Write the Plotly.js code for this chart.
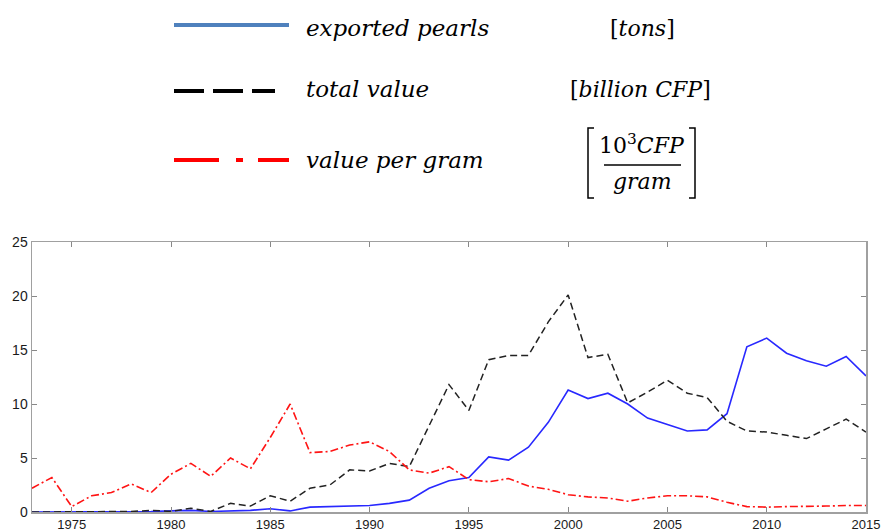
<!DOCTYPE html>
<html>
<head>
<meta charset="utf-8">
<script src="https://cdn.plot.ly/plotly-3.0.1.min.js"></script>
<style>html,body{margin:0;padding:0;background:#fff}#chart{width:885px;height:531px}</style>
</head>
<body>
<div id="chart"></div>
<script>
// ---- data ----
const years = [1973,1974,1975,1976,1977,1978,1979,1980,1981,1982,1983,1984,1985,1986,1987,1988,1989,1990,1991,1992,1993,1994,1995,1996,1997,1998,1999,2000,2001,2002,2003,2004,2005,2006,2007,2008,2009,2010,2011,2012,2013,2014,2015];
const exportedPearls = [0,0,0,0,0,0.02,0.05,0.1,0.15,0.05,0.1,0.15,0.3,0.1,0.45,0.5,0.6,0.6,0.8,1.1,2.2,2.9,3.2,5.1,4.8,6.0,8.3,11.3,10.5,11.0,10.0,8.7,8.1,7.5,7.6,9.1,15.3,16.1,14.7,14.0,13.5,14.4,12.6];
const totalValue = [0,0,0,0,0,0.05,0.15,0.05,0.35,0.05,0.8,0.55,1.5,1.0,2.2,2.5,3.9,3.8,4.5,4.2,8.0,11.8,9.4,14.1,14.5,14.5,17.6,20.1,14.3,14.6,10.1,11.1,12.2,11.0,10.6,8.4,7.5,7.4,7.1,6.8,7.7,8.6,7.4];
const valuePerGram = [2.2,3.2,0.5,1.5,1.8,2.6,1.8,3.5,4.5,3.3,5.0,4.0,6.9,10.0,5.5,5.6,6.2,6.5,5.6,3.9,3.6,4.2,3.0,2.8,3.1,2.4,2.1,1.6,1.4,1.3,1.0,1.3,1.5,1.5,1.4,0.9,0.5,0.45,0.5,0.5,0.55,0.6,0.6];
const seriesNames = ['exported pearls','total value','value per gram'];
const xTickVals = [1975,1980,1985,1990,1995,2000,2005,2010,2015];
const yTickVals = [0,5,10,15,20,25];

// ---- layout helpers (pixel -> paper) ----
const ML = 32, MR = 19, MT = 242, MB = 19, FW = 885, FH = 531;
const PW = FW - ML - MR, PH = FH - MT - MB;
const X = px => (px - ML) / PW;
const Y = py => (FH - MB - py) / PH;

const traces = [
  {x: years, y: exportedPearls, name: seriesNames[0], mode: 'lines',
   line: {color: 'rgb(40,40,255)', width: 1.6}},
  {x: years, y: totalValue, name: seriesNames[1], mode: 'lines',
   line: {color: '#222', width: 1.5, dash: '7px,4px'}},
  {x: years, y: valuePerGram, name: seriesNames[2], mode: 'lines',
   line: {color: 'rgb(255,20,20)', width: 1.6, dash: '8px,3px,2px,3px'}}
];

const serif = 'DejaVu Serif';
const legFont = {family: serif, size: 23, color: '#000'};
const unitFont = {family: serif, size: 22, color: '#000'};

const shapes = [
  {type: 'line', xref: 'paper', yref: 'paper', x0: X(174), x1: X(289), y0: Y(25), y1: Y(25),
   line: {color: '#4f81bd', width: 4}},
  {type: 'line', xref: 'paper', yref: 'paper', x0: X(174), x1: X(275), y0: Y(91), y1: Y(91),
   line: {color: '#000', width: 4, dash: '30px,9px'}},
  {type: 'line', xref: 'paper', yref: 'paper', x0: X(174), x1: X(289), y0: Y(160), y1: Y(160),
   line: {color: '#ff0000', width: 4, dash: '45px,17px,7px,15px'}},
  // fraction bar
  {type: 'line', xref: 'paper', yref: 'paper', x0: X(604), x1: X(681), y0: Y(165), y1: Y(165),
   line: {color: '#000', width: 1.3}},
  // big brackets
  {type: 'path', xref: 'paper', yref: 'paper',
   path: `M ${X(594)} ${Y(128)} L ${X(588)} ${Y(128)} L ${X(588)} ${Y(198)} L ${X(594)} ${Y(198)}`,
   line: {color: '#000', width: 1.5}},
  {type: 'path', xref: 'paper', yref: 'paper',
   path: `M ${X(689)} ${Y(128)} L ${X(695)} ${Y(128)} L ${X(695)} ${Y(198)} L ${X(689)} ${Y(198)}`,
   line: {color: '#000', width: 1.5}}
];

const ann = (txt, px, py, anchor, font) => ({text: txt, xref: 'paper', yref: 'paper', x: X(px), y: Y(py),
  xanchor: anchor, yanchor: 'middle', showarrow: false, font: font || legFont});

const annotations = [
  ann('<i>' + seriesNames[0] + '</i>', 304, 28, 'left'),
  ann('<i>' + seriesNames[1] + '</i>', 304, 89, 'left'),
  ann('<i>' + seriesNames[2] + '</i>', 304, 160, 'left'),
  ann('[<i>tons</i>]', 642, 29, 'center', unitFont),
  ann('[<i>billion CFP</i>]', 640, 89, 'center', unitFont),
  ann('10<sup>3</sup><i>CFP</i>', 642, 144, 'center', unitFont),
  ann('<i>gram</i>', 642, 182, 'center', unitFont)
];

const axisCommon = {
  showgrid: false, zeroline: false, showline: true, mirror: 'ticks',
  linecolor: '#a0a0a0', linewidth: 1.5, ticks: 'inside', ticklen: 5, tickcolor: '#888', tickwidth: 1
};

const layout = {
  width: FW, height: FH,
  margin: {l: ML, r: MR, t: MT, b: MB, pad: 0},
  paper_bgcolor: '#fff', plot_bgcolor: '#fff',
  showlegend: false,
  xaxis: Object.assign({}, axisCommon, {range: [1973, 2015], tickmode: 'array', tickvals: xTickVals,
    tickfont: {family: 'Liberation Sans, Arial, sans-serif', size: 13, color: '#1a1a1a'}}),
  yaxis: Object.assign({}, axisCommon, {range: [0, 25], tickmode: 'array', tickvals: yTickVals,
    tickfont: {family: 'Liberation Sans, Arial, sans-serif', size: 14, color: '#1a1a1a'}}),
  shapes: shapes,
  annotations: annotations
};

Plotly.newPlot('chart', traces, layout, {displayModeBar: false, staticPlot: true});
</script>
</body>
</html>
